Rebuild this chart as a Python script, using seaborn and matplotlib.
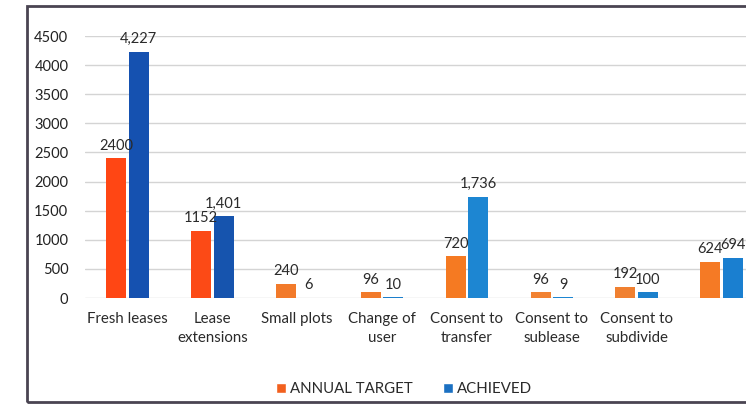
import matplotlib
matplotlib.use('Agg')
import matplotlib.pyplot as plt
from matplotlib.patches import Patch, Rectangle
import seaborn as sns
import pandas as pd

categories = ['Fresh leases', 'Lease\nextensions', 'Small plots', 'Change of\nuser',
              'Consent to\ntransfer', 'Consent to\nsublease', 'Consent to\nsubdivide', '']
annual_target = [2400, 1152, 240, 96, 720, 96, 192, 624]
achieved = [4227, 1401, 6, 10, 1736, 9, 100, 694]
target_labels = ['2400', '1152', '240', '96', '720', '96', '192', '624']
achieved_labels = ['4,227', '1,401', '6', '10', '1,736', '9', '100', '694']

# photo lighting makes the first two groups look deeper
target_colors = ['#FF4614', '#FC4A16', '#F27A2A', '#F27A2A', '#F57A22', '#F28232', '#F08030', '#F57A25']
achieved_colors = ['#1551B0', '#1654AE', '#1C7FCC', '#1C7FCC', '#1D86D2', '#1D86D2', '#1C80CC', '#1A7FD0']

df = pd.DataFrame({
    'Category': categories * 2,
    'Value': annual_target + achieved,
    'Series': ['ANNUAL TARGET'] * len(categories) + ['ACHIEVED'] * len(categories),
})

sns.set_style('white')
plt.rcParams['font.family'] = ['Lato', 'DejaVu Sans']

fig = plt.figure(figsize=(7.46, 4.09), dpi=100)
ax = fig.add_axes([85 / 746, 1 - 298 / 409, (764 - 85) / 746, (298 - 36) / 409])

sns.barplot(data=df, x='Category', y='Value', hue='Series',
            hue_order=['ANNUAL TARGET', 'ACHIEVED'], order=categories,
            width=0.53, gap=0.11, ax=ax, legend=False, saturation=1)

for patch, c in zip(ax.containers[0], target_colors):
    patch.set_facecolor(c)
    patch.set_edgecolor('none')
for patch, c in zip(ax.containers[1], achieved_colors):
    patch.set_facecolor(c)
    patch.set_edgecolor('none')

ax.bar_label(ax.containers[0], labels=target_labels, padding=4, fontsize=10.5, color='#2a2a2a')
ax.bar_label(ax.containers[1], labels=achieved_labels, padding=4, fontsize=10.5, color='#2a2a2a')

ax.set_ylim(0, 4500)
ax.set_xlim(-0.5, 7.5)
ax.set_yticks(range(0, 4501, 500))
ax.yaxis.grid(True, color='#d4d4d4', linewidth=1)
ax.set_axisbelow(True)
for s in ax.spines.values():
    s.set_visible(False)
ax.set_xlabel('')
ax.set_ylabel('')
ax.tick_params(axis='y', length=0, pad=12, labelsize=10.5, labelcolor='#222222')
ax.tick_params(axis='x', length=0, pad=10, labelsize=10.8, labelcolor='#2a2a2a')
for t in ax.get_xticklabels():
    t.set_linespacing(1.45)
    t.set_verticalalignment('top')

handles = [Patch(facecolor='#F2601E', label='ANNUAL TARGET'),
           Patch(facecolor='#1B70C2', label='ACHIEVED')]
fig.legend(handles=handles, loc='center', bbox_to_anchor=(404 / 746, 1 - 389 / 409),
           ncol=2, frameon=False, fontsize=10.8, handlelength=0.65, handleheight=0.65,
           handletextpad=0.3, columnspacing=2.0, labelcolor='#2a2a2a')

fig.patches.append(Rectangle((27 / 746, 1 - 402 / 409), 1.0, (402 - 6) / 409,
                             transform=fig.transFigure, fill=False,
                             edgecolor='#4a4452', linewidth=2))

fig.savefig('out.png', dpi=100)
plt.close(fig)
